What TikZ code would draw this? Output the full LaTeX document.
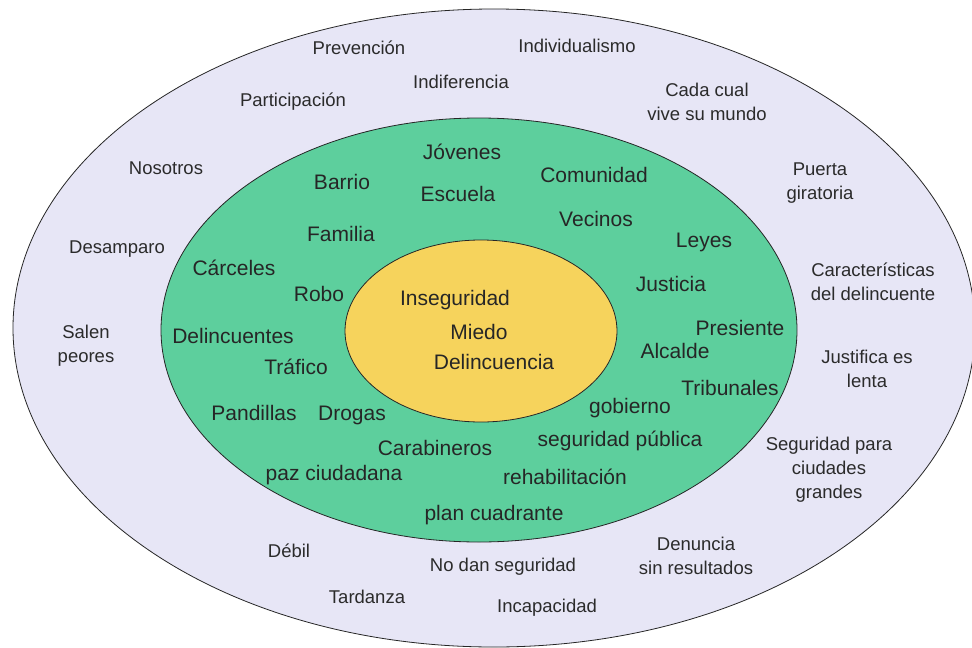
\documentclass[tikz,border=0pt]{standalone}
\usepackage{fontspec}
\setmainfont{Liberation Sans}
\usepackage{tikz}
\usetikzlibrary{positioning}

\definecolor{lavanda}{HTML}{E7E6F6}
\definecolor{verde}{HTML}{5DCF9D}
\definecolor{amarillo}{HTML}{F6D35C}
\definecolor{tinta}{HTML}{2B2B2B}

\begin{document}
\begin{tikzpicture}[x=1pt,y=-1pt,
  ring/.style={draw=black!85,line width=0.8pt},
  outer/.style={text=tinta,align=center,font=\fontsize{18.5}{24}\selectfont},
  inner/.style={text=black!85,align=center,font=\fontsize{21}{25}\selectfont},
  core/.style={inner}]
  \useasboundingbox[fill=white] (0,0) rectangle (972,648);
  \draw[ring,fill=lavanda]  (494,328) ellipse [x radius=481, y radius=319];
  \draw[ring,fill=verde]    (479,330) ellipse [x radius=318, y radius=212];
  \draw[ring,fill=amarillo] (481,331) ellipse [x radius=136, y radius=91];

  \node[core] (inseg) at (455,300) {Inseguridad};
  \node[core] (miedo) at (479,332) {Miedo};
  \node[core] (delin) at (494,362) {Delincuencia};

  \node[inner] (jov)   at (462,152) {Jóvenes};
  \node[inner] (esc)   at (458,194) {Escuela};
  \node[inner] (barr)  at (342,182) {Barrio};
  \node[inner] (comu)  at (594,175) {Comunidad};
  \node[inner] (vec)   at (596,219) {Vecinos};
  \node[inner] (fam)   at (341,234) {Familia};
  \node[inner] (ley)   at (704,242) {Leyes};
  \node[inner] (carc)  at (234,268) {Cárceles};
  \node[inner] (robo)  at (319,294) {Robo};
  \node[inner] (just)  at (671,284) {Justicia};
  \node[inner] (pres)  at (740,328) {Presiente};
  \node[inner] (delis) at (233,336) {Delincuentes};
  \node[inner] (alc)   at (675,351) {Alcalde};
  \node[inner] (traf)  at (296,367) {Tráfico};
  \node[inner] (trib)  at (730,388) {Tribunales};
  \node[inner] (pand)  at (254,413) {Pandillas};
  \node[inner] (drog)  at (352,415) {Drogas};
  \node[inner] (gob)   at (630,408) {gobierno};
  \node[inner] (cara)  at (435,448) {Carabineros};
  \node[inner] (segp)  at (620,441) {seguridad pública};
  \node[inner] (paz)   at (334,475) {paz ciudadana};
  \node[inner] (rehab) at (565,477) {rehabilitación};
  \node[inner] (plan)  at (494,515) {plan cuadrante};

  \node[outer] (prev)  at (359,48)  {Prevención};
  \node[outer] (indif) at (461,82)  {Indiferencia};
  \node[outer] (indiv) at (577,46)  {Individualismo};
  \node[outer] (part)  at (293,102) {Participación};
  \node[outer] (cada)  at (707,102) {Cada cual\\vive su mundo};
  \node[outer] (nos)   at (166,168) {Nosotros};
  \node[outer] (puer)  at (820,183) {Puerta\\giratoria};
  \node[outer] (desa)  at (117,249) {Desamparo};
  \node[outer] (cara2) at (873,282) {Características\\del delincuente};
  \node[outer] (salen) at (86,346)  {Salen\\peores};
  \node[outer] (justf) at (867,369) {Justifica es\\lenta};
  \node[outer] (segc)  at (829,470) {Seguridad para\\ciudades\\grandes};
  \node[outer] (debil) at (289,551) {Débil};
  \node[outer] (nodan) at (503,567) {No dan seguridad};
  \node[outer] (denu)  at (696,556) {Denuncia\\sin resultados};
  \node[outer] (tard)  at (367,597) {Tardanza};
  \node[outer] (incap) at (547,608) {Incapacidad};
\end{tikzpicture}
\end{document}
